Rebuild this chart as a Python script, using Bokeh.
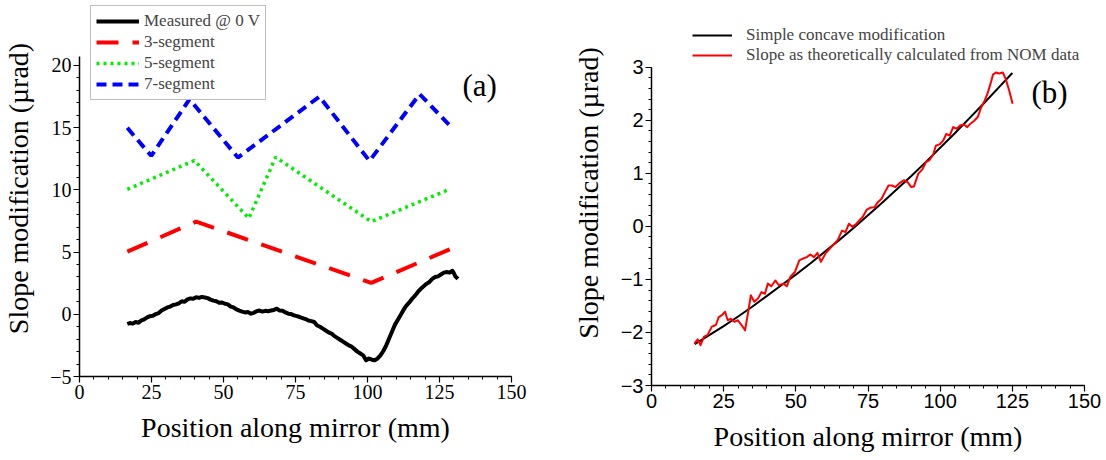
from bokeh.plotting import figure
from bokeh.layouts import row
from bokeh.models import Range1d, SingleIntervalTicker, Legend, LegendItem, Label
from bokeh.embed import file_html
from bokeh.resources import INLINE

# ---------------- Panel (a) data ----------------
meas_x = [16.6, 17.5, 18.5, 19.5, 20.5, 21.5, 22.5, 23.5, 24.5, 25.5, 26.5, 27.5, 28.5, 29.5,
          30.5, 31.5, 32.5, 33.5, 34.5, 35.5, 36.5, 37.5, 38.5, 39.5, 40.5, 41.5, 42.5, 43.5,
          44.5, 45.5, 46.5, 47.5, 48.5, 49.5, 50.5, 51.5, 52.5, 53.5, 54.5, 55.5, 56.5, 57.5,
          58.5, 59.5, 60.5, 61.5, 62.5, 63.5, 64.5, 65.5, 66.5, 67.5, 68.5, 69.5, 70.5, 71.5,
          72.5, 73.5, 74.5, 75.5, 76.5, 77.5, 78.5, 79.5, 80.5, 81.5, 82.5, 83.5, 84.5, 85.5,
          86.5, 87.5, 88.5, 89.5, 90.5, 91.5, 92.5, 93.5, 94.5, 95.5, 96.5, 97.5, 98.5, 99.5,
          100.5, 101.5, 102.5, 103.5, 104.5, 105.5, 106.5, 107.5, 108.5, 109.5, 110.5, 111.5,
          112.5, 113.5, 114.5, 115.5, 116.5, 117.5, 118.5, 119.5, 120.5, 121.5, 122.5, 123.5,
          124.5, 125.5, 126.5, 127.5, 128.5, 129.5, 130.0, 130.5, 131.4]
meas_y = [-0.78, -0.70, -0.75, -0.62, -0.68, -0.48, -0.40, -0.25, -0.15, -0.12, 0.02, 0.10, 0.30, 0.42,
          0.55, 0.62, 0.75, 0.80, 0.88, 1.05, 1.00, 1.20, 1.28, 1.25, 1.38, 1.32, 1.40, 1.35,
          1.30, 1.18, 1.10, 1.05, 0.92, 0.95, 0.85, 0.80, 0.62, 0.55, 0.40, 0.30, 0.22, 0.15,
          0.18, 0.05, 0.12, 0.25, 0.30, 0.22, 0.28, 0.25, 0.30, 0.35, 0.45, 0.30, 0.28, 0.15,
          0.05, 0.02, -0.08, -0.15, -0.22, -0.30, -0.38, -0.50, -0.55, -0.62, -0.90, -1.00, -1.15, -1.30,
          -1.45, -1.55, -1.75, -1.90, -2.05, -2.20, -2.35, -2.50, -2.60, -2.80, -3.00, -3.15, -3.30, -3.70,
          -3.55, -3.65, -3.70, -3.55, -3.30, -2.95, -2.50, -1.95, -1.40, -0.85, -0.45, -0.05,
          0.35, 0.70, 0.95, 1.25, 1.50, 1.80, 2.05, 2.25, 2.45, 2.60, 2.85, 3.00,
          3.05, 3.20, 3.35, 3.40, 3.35, 3.50, 3.30, 3.05, 2.85]

seg3_x = [16.6, 40.5, 101.3, 129.1]
seg3_y = [5.04, 7.45, 2.52, 5.28]

seg5_x = [16.6, 39.9, 58.8, 68.1, 101.3, 128.5]
seg5_y = [10.05, 12.36, 7.72, 12.63, 7.45, 10.05]

seg7_x = [16.6, 24.9, 38.2, 55.0, 83.3, 100.7, 118.1, 128.5]
seg7_y = [14.99, 12.74, 17.29, 12.60, 17.50, 12.33, 17.70, 15.20]

# ---------------- Panel (b) data ----------------
conc_x = [15, 20, 25, 30, 35, 40, 45, 50, 55, 60, 65, 70, 75, 80, 85, 90, 95, 100, 105, 110, 115, 120, 125]
conc_y = [-2.22, -2.05, -1.88, -1.70, -1.51, -1.31, -1.11, -0.91, -0.70, -0.48, -0.26, -0.03,
          0.21, 0.45, 0.70, 0.95, 1.21, 1.48, 1.75, 2.03, 2.31, 2.60, 2.89]

nom_x = [14.8, 16.0, 17.0, 18.2, 19.4, 20.9, 22.3, 23.3, 24.5, 25.5, 26.4, 27.5, 28.7, 29.9,
         31.2, 32.4, 33.6, 34.4, 35.6, 36.9, 38.1, 39.3, 40.3, 41.5, 42.9, 44.1, 45.7, 46.9,
         48.1, 49.7, 51.2, 52.4, 53.8, 55.0, 56.3, 57.5, 58.7, 60.3, 61.8, 63.3, 64.5, 66.0,
         67.2, 68.4, 69.6, 70.8, 72.0, 73.2, 74.5, 75.7, 77.2, 78.5, 79.7, 80.9, 82.1, 83.3,
         84.5, 86.1, 87.5, 88.8, 90.0, 90.9, 92.4, 93.9, 95.1, 96.3, 97.5, 98.5, 99.9, 101.1,
         102.1, 103.3, 104.5, 105.7, 106.9, 108.2, 109.4, 110.6, 111.8, 113.0, 114.2, 115.4,
         116.4, 117.4, 118.3, 119.3, 120.5, 121.7, 122.7, 123.9, 125.1]
nom_y = [-2.21, -2.13, -2.24, -2.08, -2.05, -1.89, -1.86, -1.71, -1.67, -1.61, -1.77, -1.74, -1.80, -1.77,
         -1.86, -1.96, -1.58, -1.30, -1.42, -1.36, -1.24, -1.27, -1.08, -1.13, -1.02, -1.11, -1.08, -1.13,
         -0.95, -0.86, -0.64, -0.61, -0.58, -0.53, -0.58, -0.50, -0.67, -0.51, -0.42, -0.33, -0.26, -0.08,
         -0.11, 0.05, -0.01, 0.04, 0.11, 0.18, 0.31, 0.35, 0.36, 0.46, 0.52, 0.65, 0.77, 0.77,
         0.74, 0.82, 0.87, 0.83, 0.74, 0.75, 0.99, 1.08, 1.21, 1.25, 1.34, 1.52, 1.55, 1.62,
         1.74, 1.71, 1.87, 1.84, 1.90, 1.92, 1.87, 1.94, 1.99, 2.06, 2.24, 2.37,
         2.50, 2.68, 2.86, 2.90, 2.88, 2.90, 2.78, 2.56, 2.31]

SERIF = "Liberation Serif"
SANS = "Liberation Sans"


def style(p, tick_font, tick_size, xstand, ystand, ybounds):
    p.xgrid.visible = False
    p.ygrid.visible = False
    p.outline_line_color = None
    p.background_fill_color = "white"
    p.border_fill_color = "white"
    for ax in (p.xaxis[0], p.yaxis[0]):
        ax.axis_line_color = "black"
        ax.axis_line_width = 1.5
        ax.major_tick_line_color = "black"
        ax.minor_tick_line_color = "black"
        ax.major_tick_line_width = 1.2
        ax.minor_tick_line_width = 1.0
        ax.major_tick_out = 6
        ax.major_tick_in = 0
        ax.minor_tick_out = 3
        ax.minor_tick_in = 0
        ax.major_label_text_font = tick_font
        ax.major_label_text_font_size = tick_size
        ax.major_label_text_color = "black"
        ax.major_label_standoff = 2
        ax.axis_label_text_font = SERIF
        ax.axis_label_text_font_size = "28px"
        ax.axis_label_text_font_style = "normal"
        ax.axis_label_text_color = "black"
    p.xaxis[0].axis_label_standoff = xstand
    p.yaxis[0].axis_label_standoff = ystand
    p.yaxis[0].bounds = ybounds


# ---------------- Figure (a) ----------------
p1 = figure(frame_width=432, frame_height=376,
            min_border_left=79, min_border_right=54, min_border_top=0, min_border_bottom=75,
            x_range=Range1d(0, 150), y_range=Range1d(-5, 25.225),
            x_axis_label="Position along mirror (mm)",
            y_axis_label="Slope modification (\u00b5rad)",
            output_backend="svg", toolbar_location=None)
p1.xaxis[0].ticker = SingleIntervalTicker(interval=25, num_minor_ticks=5)
p1.yaxis[0].ticker = SingleIntervalTicker(interval=5, num_minor_ticks=5)
style(p1, SERIF, "20px", 10, 13, (-5, 20.75))

r_meas = p1.line(meas_x, meas_y, line_color="black", line_width=4, line_join="round")
r3 = p1.line(seg3_x, seg3_y, line_color="#ff0000", line_width=4, line_dash="22 14")
r5 = p1.line(seg5_x, seg5_y, line_color="#00ee00", line_width=3.5, line_dash="3 4")
r7 = p1.line(seg7_x, seg7_y, line_color="#0000ff", line_width=4, line_dash="10 6")

leg1 = Legend(items=[LegendItem(label="Measured @ 0 V", renderers=[r_meas]),
                     LegendItem(label="3-segment", renderers=[r3]),
                     LegendItem(label="5-segment", renderers=[r5]),
                     LegendItem(label="7-segment", renderers=[r7])],
              location=(11, 276), glyph_width=43, glyph_height=20, label_height=20,
              label_standoff=5, spacing=1, padding=5, margin=0,
              label_text_font=SERIF, label_text_font_size="17px",
              border_line_color="#808080", border_line_width=1,
              background_fill_color="white", background_fill_alpha=1.0)
p1.add_layout(leg1)
p1.add_layout(Label(x=133.0, y=18.43, text="(a)", text_font=SERIF, text_font_size="31px",
                    text_baseline="middle", text_align="left", text_color="black"))

# ---------------- Figure (b) ----------------
p2 = figure(frame_width=433, frame_height=385,
            min_border_left=86, min_border_right=22, min_border_top=0, min_border_bottom=75,
            x_range=Range1d(0, 150), y_range=Range1d(-3, 4.257),
            x_axis_label="Position along mirror (mm)",
            y_axis_label="Slope modification (\u00b5rad)",
            output_backend="svg", toolbar_location=None)
p2.xaxis[0].ticker = SingleIntervalTicker(interval=25, num_minor_ticks=5)
p2.yaxis[0].ticker = SingleIntervalTicker(interval=1, num_minor_ticks=5)
style(p2, SANS, "20px", 10, 14, (-3, 3))

r_conc = p2.line(conc_x, conc_y, line_color="black", line_width=2)
r_nom = p2.line(nom_x, nom_y, line_color="#ff0000", line_width=2, line_join="round")

leg2 = Legend(items=[LegendItem(label="Simple concave modification", renderers=[r_conc]),
                     LegendItem(label="Slope as theoretically calculated from NOM data", renderers=[r_nom])],
              location=(36, 315), glyph_width=40, glyph_height=20, label_height=20,
              label_standoff=14, spacing=0, padding=5, margin=0,
              label_text_font=SERIF, label_text_font_size="17px",
              border_line_alpha=0, background_fill_alpha=0)
p2.add_layout(leg2)
p2.add_layout(Label(x=131.6, y=2.52, text="(b)", text_font=SERIF, text_font_size="31px",
                    text_baseline="middle", text_align="left", text_color="black"))

layout = row(p1, p2)
open("out.html", "w").write(file_html(layout, INLINE))
